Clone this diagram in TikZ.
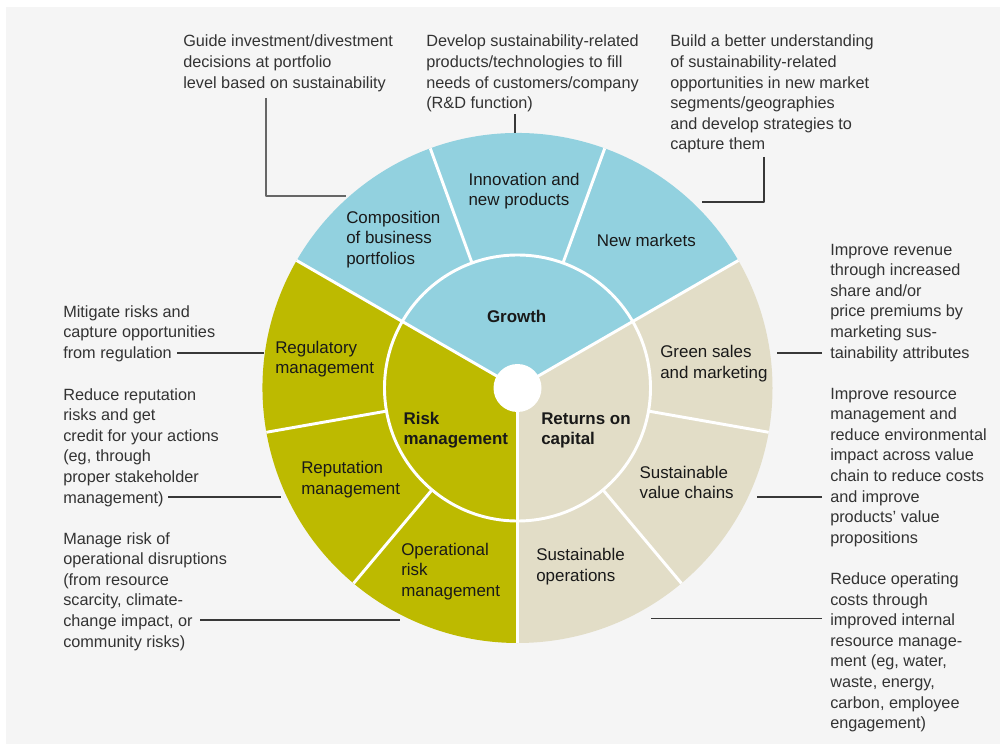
\documentclass[tikz,border=0pt]{standalone}
\usepackage{fontspec}
\setmainfont{Liberation Sans}
\definecolor{panelgray}{HTML}{F5F5F5}
\definecolor{growthblue}{HTML}{92D1DF}
\definecolor{riskolive}{HTML}{BDBA00}
\definecolor{returnsbeige}{HTML}{E2DDC7}
\definecolor{notegray}{HTML}{333333}
\tikzset{
  note/.style={anchor=base west, inner sep=0pt, align=left, text=notegray, font=\fontsize{12.2}{15.45}\selectfont},
  seg/.style={anchor=base west, inner sep=0pt, align=left, text=black!90, font=\fontsize{12.7}{15.4}\selectfont},
  hub/.style={seg, font=\fontsize{12.7}{15.4}\selectfont\bfseries},
  leader/.style={draw=black!78, line width=1pt},
  sepline/.style={draw=white, line width=2.2pt}
}
\begin{document}
\begin{tikzpicture}[x=0.75pt, y=0.75pt, line join=round]
	\def\cx{517.5} \def\cy{356} % centre of the wheel
	\def\Rout{255} \def\Rmid{133} \def\Rhub{24}
	\fill[white] (0,0) rectangle (1000,744);
	\fill[panelgray] (6,0) rectangle (1000,737);
	\coordinate (hub) at (\cx,\cy);
	% three main sectors
	\foreach \a/\c in {30/growthblue,150/riskolive,270/returnsbeige}
		\fill[\c] (hub) -- ++(\a:\Rout) arc[start angle=\a, end angle=\a+120, radius=\Rout] -- cycle;
	\foreach \a in {30,150,270} \draw[sepline] (hub) -- ++(\a:\Rout);
	\foreach \a in {70,110,190,230,310,350}
		\draw[sepline] ([shift={(\a:\Rmid)}]hub) -- ([shift={(\a:\Rout)}]hub);
	\draw[sepline] (hub) circle[radius=\Rmid];
	\fill[white] (hub) circle[radius=\Rhub];
	% labels inside the wheel (anchored on the last line)
	\node[seg] (comp) at (346,479.6) {Composition\\of business\\portfolios};
	\node[seg] (innov) at (468.3,538.2) {Innovation and\\new products};
	\node[seg] (newm) at (596.7,497.3) {New markets};
	\node[hub, anchor=base] (growth) at (516.7,421.3) {Growth};
	\node[seg] (regul) at (275,370.2) {Regulatory\\management};
	\node[seg] (reput) at (301,249.8) {Reputation\\management};
	\node[seg] (oper) at (401,147.6) {Operational\\risk\\management};
	\node[hub] (risk) at (403.3,299.2) {Risk\\management};
	\node[hub] (ret) at (541,299.2) {Returns on\\capital};
	\node[seg] (green) at (660,365.8) {Green sales\\and marketing};
	\node[seg] (susv) at (639.3,245.2) {Sustainable\\value chains};
	\node[seg] (suso) at (536,162.5) {Sustainable\\operations};
	% notes around the wheel
	\node[note] (gd) at (183,655.8) {Guide investment/divestment\\decisions at portfolio\\level based on sustainability};
	\node[note] (dev) at (426,635.2) {Develop sustainability-related\\products/technologies to fill\\needs of customers/company\\(R\&D function)};
	\node[note] (bld) at (670,594) {Build a better understanding\\of sustainability-related\\opportunities in new market\\segments/geographies\\and develop strategies to\\capture them};
	\node[note] (mit) at (63,385.8) {Mitigate risks and\\capture opportunities\\from regulation};
	\node[note] (rep) at (63,241) {Reduce reputation\\risks and get\\credit for your actions\\(eg, through\\proper stakeholder\\management)};
	\node[note] (man) at (63,97) {Manage risk of\\operational disruptions\\(from resource\\scarcity, climate-\\change impact, or\\community risks)};
	\node[note] (imp) at (830,386) {Improve revenue\\through increased\\share and/or\\price premiums by\\marketing sus-\\tainability attributes};
	\node[note] (res) at (830,200.8) {Improve resource\\management and\\reduce environmental\\impact across value\\chain to reduce costs\\and improve\\products' value\\propositions};
	\node[note] (red) at (830,15.3) {Reduce operating\\costs through\\improved internal\\resource manage-\\ment (eg, water,\\waste, energy,\\carbon, employee\\engagement)};
	% leader lines
	\coordinate (gd-a) at (266,646);   \coordinate (gd-b) at (346,548);
	\coordinate (dev-a) at (515,630);  \coordinate (dev-b) at (515,611);
	\coordinate (bld-a) at (764,587);  \coordinate (bld-b) at (702,542);
	\coordinate (mit-a) at (177,391);  \coordinate (mit-b) at (264,391);
	\coordinate (rep-a) at (168,247);  \coordinate (rep-b) at (281,247);
	\coordinate (man-a) at (200,124);  \coordinate (man-b) at (400,124);
	\coordinate (imp-a) at (822,391);  \coordinate (imp-b) at (777,391);
	\coordinate (res-a) at (822,247);  \coordinate (res-b) at (757,247);
	\coordinate (red-a) at (822,125.5);\coordinate (red-b) at (651,125.5);
	\draw[leader, draw=black!60] (gd-a) |- (gd-b);
	\draw[leader] (bld-a) |- (bld-b);
	\foreach \n in {dev,mit,rep,man,imp,res,red} \draw[leader] (\n-a) -- (\n-b);
\end{tikzpicture}
\end{document}
